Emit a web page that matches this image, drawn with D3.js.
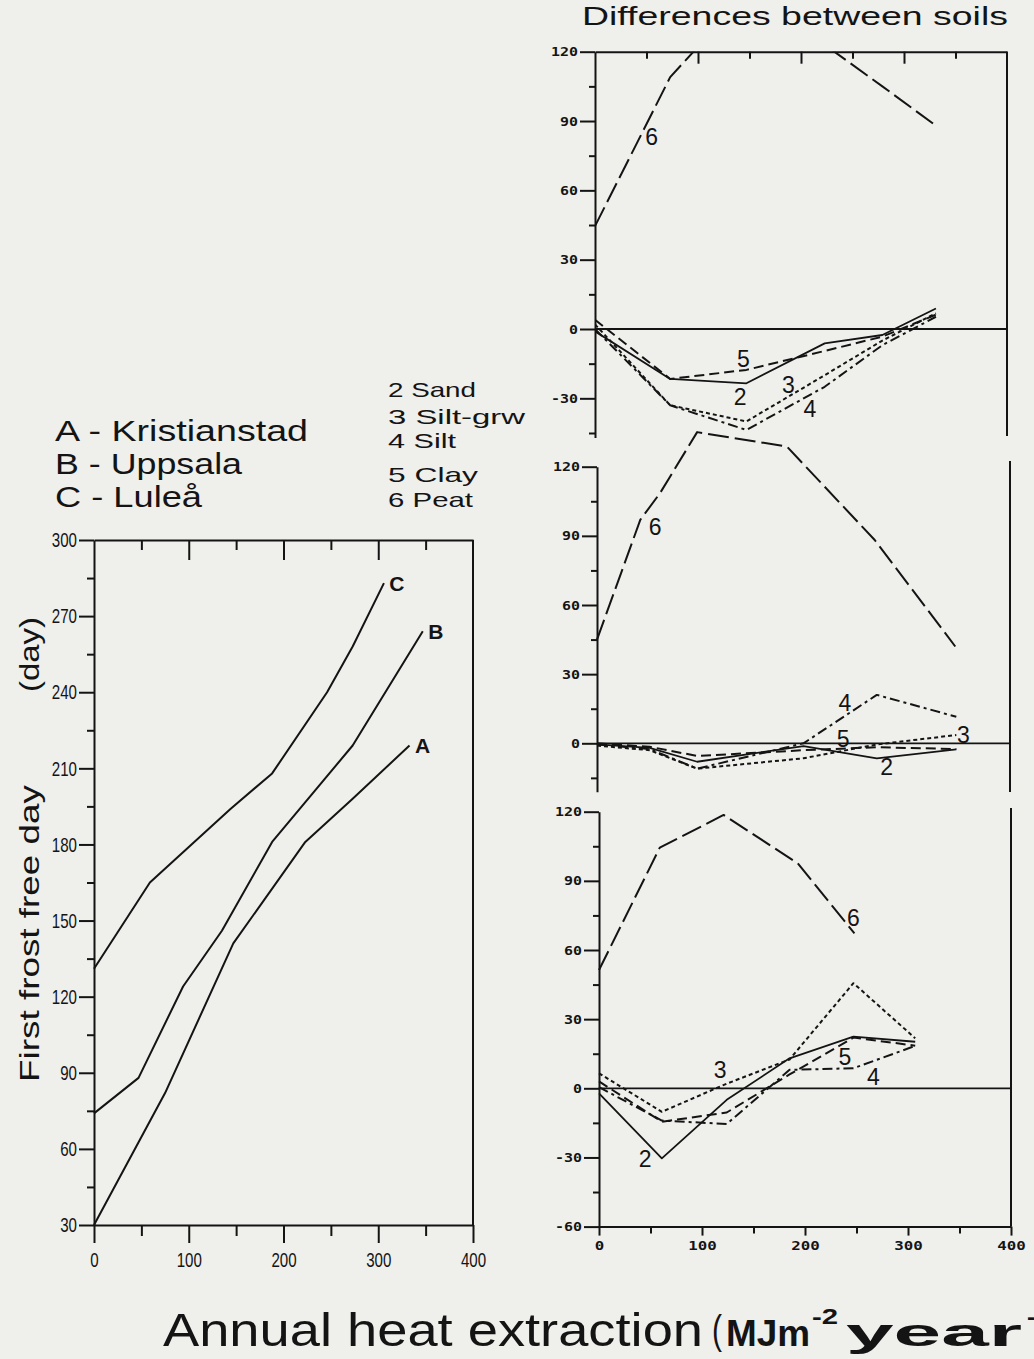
<!DOCTYPE html>
<html>
<head>
<meta charset="utf-8">
<title>First frost free day and differences between soils</title>
<script src="https://cdn.jsdelivr.net/npm/d3@7/dist/d3.min.js"></script>
<style>
  html, body { margin: 0; padding: 0; background: #efefec; }
  svg { display: block; }
</style>
</head>
<body>
<svg id="fig" width="1034" height="1359"></svg>
<script>
// ---- Left panel: first frost free day against annual heat extraction ----
const siteKeys = ["A", "B", "C"];
const siteNames = ["A - Kristianstad", "B - Uppsala", "C - Luleå"];
const heatA = [0, 75, 147, 223, 273, 333];
const frostA = [30, 82, 141, 181, 198, 219];
const heatB = [0, 47, 94, 135, 188, 273, 347];
const frostB = [74, 88, 124, 146, 181, 219, 264];
const heatC = [0, 59, 144, 188, 246, 273, 306];
const frostC = [131, 165, 194, 208, 240, 258, 283];
const frostTicks = [30, 60, 90, 120, 150, 180, 210, 240, 270, 300];
const heatTicks = [0, 100, 200, 300, 400];

// ---- Right panels: difference in first frost free day between soils ----
const soilKeys = ["2", "3", "4", "5", "6"];
const soilNames = ["2 Sand", "3 Silt-grw", "4 Silt", "5 Clay", "6 Peat"];

const upperHeat = [0, 73, 147, 223, 279, 331];
const upperSand = [-1, -21.6, -23.5, -6.2, -2.6, 8.9];
const upperSiltGrw = [2, -33, -40, -20, -5, 6.8];
const upperSilt = [0, -33, -43.7, -25, -7, 5.3];
const upperClay = [4, -21.6, -17.7, -9.5, -3.3, 6.2];
const upperPeat = [44.5, 109, 145, 123, 105, 88];

const middleHeat = [0, 51, 97, 200, 271, 348];
const middleSand = [-0.5, -2, -8, -1.2, -6.5, -2.6];
const middleSiltGrw = [-1, -3, -11, -6.5, -0.5, 3.6];
const middleSilt = [-0.5, -2.5, -11, 0, 21, 11.5];
const middleClay = [0, -1.5, -5.5, -3, -1.7, -2.5];
const middlePeatHeat = [0, 42, 61, 97, 184, 269, 347];
const middlePeat = [45, 97, 108.5, 135, 128.7, 88.2, 42];

const lowerHeat = [0, 61, 124, 185, 247, 307];
const lowerSand = [-2.2, -30.4, -5, 13, 22.4, 20.2];
const lowerSiltGrw = [6.5, -10.2, 2, 12.5, 45.6, 21.7];
const lowerSilt = [0.5, -14, -15.5, 8, 8.7, 18.4];
const lowerClay = [3, -14.5, -10.5, 6, 22, 18.5];
const lowerPeatHeat = [0, 59, 121, 193, 248];
const lowerPeat = [51.3, 104.4, 118.6, 97.6, 67.2];

// ---- drawing ----
const INK = "#141414";
const sansFont = "'Liberation Sans', Arial, Helvetica, sans-serif";
const plotterFont = "'DejaVu Sans Mono', monospace";

const svg = d3.select("#fig");
svg.append("rect").attr("width", 1034).attr("height", 1359).attr("fill", "#efefec");

function axisGroup(parent, tx, ty, axis, width) {
  const g = parent.append("g").attr("transform", `translate(${tx},${ty})`).call(axis);
  g.selectAll("path, line").attr("stroke-width", width);
  return g;
}

// tick labels squeezed or widened to a fixed width per character
function fitTickText(g, font, size, weight, perChar) {
  g.attr("font-family", font).attr("font-size", size);
  if (weight) g.attr("font-weight", weight);
  g.selectAll(".tick text")
    .attr("font-size", size)
    .attr("textLength", function () { return this.textContent.length * perChar; })
    .attr("lengthAdjust", "spacingAndGlyphs");
}

function label(parent, x, y, text, size, length, weight) {
  const t = parent.append("text")
    .attr("x", x).attr("y", y)
    .attr("font-family", sansFont).attr("font-size", size)
    .attr("fill", INK).text(text);
  if (weight) t.attr("font-weight", weight);
  if (length) t.attr("textLength", length).attr("lengthAdjust", "spacingAndGlyphs");
  return t;
}

// ---------- left panel ----------
const lx = d3.scaleLinear().domain([0, 400]).range([94, 473]);
const ly = d3.scaleLinear().domain([30, 300]).range([1225, 540]);
const leftG = svg.append("g").attr("color", INK);

const yMajor = axisGroup(leftG, 94, 0,
  d3.axisLeft(ly).tickValues(frostTicks).tickSize(15).tickSizeOuter(0).tickPadding(2).tickFormat(d => String(d)), 2);
fitTickText(yMajor, sansFont, 21, null, 8.4);
const yMinor = axisGroup(leftG, 94, 0,
  d3.axisLeft(ly).tickValues(d3.range(45, 300, 30)).tickSize(7).tickFormat(""), 2);
yMinor.select(".domain").remove();

const xMajor = axisGroup(leftG, 0, 1225,
  d3.axisBottom(lx).tickValues(heatTicks).tickSize(18).tickSizeOuter(0).tickPadding(9).tickFormat(d => String(d)), 2);
fitTickText(xMajor, sansFont, 21, null, 8.4);
const xMinor = axisGroup(leftG, 0, 1225,
  d3.axisBottom(lx).tickValues([50, 150, 250, 350]).tickSize(11).tickFormat(""), 2);
xMinor.select(".domain").remove();

axisGroup(leftG, 0, 540,
  d3.axisBottom(lx).tickValues([100, 200, 300]).tickSize(20).tickSizeOuter(0).tickFormat(""), 2);
axisGroup(leftG, 0, 540,
  d3.axisBottom(lx).tickValues([50, 150, 250, 350]).tickSize(10).tickFormat(""), 2)
  .select(".domain").remove();

leftG.append("line")
  .attr("x1", lx(400)).attr("x2", lx(400)).attr("y1", ly(300)).attr("y2", ly(30))
  .attr("stroke", INK).attr("stroke-width", 2);

const siteSeries = [[heatA, frostA], [heatB, frostB], [heatC, frostC]];
const siteLine = d3.line().x(d => lx(d[0])).y(d => ly(d[1]));
siteSeries.forEach(([h, f], i) => {
  const pts = d3.zip(h, f);
  leftG.append("path").attr("d", siteLine(pts))
    .attr("fill", "none").attr("stroke", INK).attr("stroke-width", 2)
    .attr("stroke-linejoin", "round");
  const last = pts[pts.length - 1];
  leftG.append("text")
    .attr("x", lx(last[0]) + 13).attr("y", ly(last[1])).attr("dy", "0.36em")
    .attr("text-anchor", "middle").attr("font-family", sansFont)
    .attr("font-weight", "bold").attr("font-size", 21).attr("fill", INK)
    .text(siteKeys[i]);
});

// legends
const siteBaselines = [441, 474, 507];
const siteWidths = [253, 187, 147];
siteNames.forEach((n, i) => label(svg, 55, siteBaselines[i], n, 29, siteWidths[i]));

const soilBaselines = [397, 424, 448, 482, 507];
const soilWidths = [88, 137, 68, 90, 85];
soilNames.forEach((n, i) => label(svg, 388, soilBaselines[i], n, 21, soilWidths[i]));

// y axis title
const yTitle = svg.append("g");
label(yTitle, 0, 0, "First frost free day", 28, 297).attr("transform", "translate(39,1082) rotate(-90)");
label(yTitle, 0, 0, "(day)", 28, 75).attr("transform", "translate(39,692) rotate(-90)");

// panel title and shared x axis title
label(svg, 582, 25, "Differences between soils", 25, 426);
label(svg, 163, 1346, "Annual heat extraction", 46, 540);
label(svg, 712, 1344, "(", 40, 10);
label(svg, 726, 1346, "MJm", 36, 84, "bold");
label(svg, 812, 1324, "-2", 22, 26, "bold");
label(svg, 846, 1346, "year", 38, 176, "bold");
label(svg, 1027, 1324, "-1)", 22, 30, "bold");

// ---------- right panels ----------
const soilDash = ["none", "4,3", "10,4,3,4", "10,5", "21,6"];
const soilWidth = [1.8, 2, 2, 2, 2];

const panels = [
  { x0: 595, x1: 1007, yZero: 329, yTop: 51.7, low: -47, rightTop: 51.7, rightBottom: 436,
    major: [120, 90, 60, 30, 0, -30], minor: [105, 75, 45, 15, -15, -45],
    frameTop: true, xAxis: false, clip: true,
    heat: upperHeat, soils: [upperSand, upperSiltGrw, upperSilt, upperClay],
    peatHeat: upperHeat, peat: upperPeat,
    tags: [[140.8, -29.3], [187.7, -24.2], [208.7, -34.3], [144, -12.7], [55, 83.2]] },
  { x0: 597, x1: 1010, yZero: 743.3, yTop: 466.7, low: -21, rightTop: 461, rightBottom: 792,
    major: [120, 90, 60, 30, 0], minor: [105, 75, 45, 15, -15],
    frameTop: false, xAxis: false, clip: false,
    heat: middleHeat, soils: [middleSand, middleSiltGrw, middleSilt, middleClay],
    peatHeat: middlePeatHeat, peat: middlePeat,
    tags: [[280.6, -10.2], [354.8, 3.6], [240, 17.4], [238.5, 2.2], [56.2, 94]] },
  { x0: 599, x1: 1011, yZero: 1088.3, yTop: 811.7, low: -60, rightTop: 808, rightBottom: 1226.6,
    major: [120, 90, 60, 30, 0, -30, -60], minor: [105, 75, 45, 15, -15, -45],
    frameTop: false, xAxis: true, clip: false,
    heat: lowerHeat, soils: [lowerSand, lowerSiltGrw, lowerSilt, lowerClay],
    peatHeat: lowerPeatHeat, peat: lowerPeat,
    tags: [[44.7, -30.4], [117.5, 7.9], [266.3, 5], [238.8, 13.7], [246.9, 73.8]] }
];

const defs = svg.append("defs");

panels.forEach((p, pi) => {
  const k = (p.yZero - p.yTop) / 120;
  const sx = d3.scaleLinear().domain([0, 400]).range([p.x0, p.x1]);
  const sy = d3.scaleLinear().domain([p.low, 120]).range([p.yZero - p.low * k, p.yTop]);
  const g = svg.append("g").attr("color", INK);

  const ya = axisGroup(g, p.x0, 0,
    d3.axisLeft(sy).tickValues(p.major).tickSize(15).tickSizeOuter(0).tickPadding(2).tickFormat(d => String(d)), 2);
  fitTickText(ya, plotterFont, 12.5, "bold", 9);
  axisGroup(g, p.x0, 0,
    d3.axisLeft(sy).tickValues(p.minor).tickSize(6).tickFormat(""), 2)
    .select(".domain").remove();

  g.append("line")
    .attr("x1", p.x0).attr("x2", p.x1).attr("y1", sy(0)).attr("y2", sy(0))
    .attr("stroke", INK).attr("stroke-width", 1.8);
  g.append("line")
    .attr("x1", p.x1).attr("x2", p.x1).attr("y1", p.rightTop).attr("y2", p.rightBottom)
    .attr("stroke", INK).attr("stroke-width", 2);

  if (p.frameTop) {
    axisGroup(g, 0, p.yTop,
      d3.axisBottom(sx).tickValues([100, 200, 300]).tickSize(12).tickSizeOuter(0).tickFormat(""), 2);
    axisGroup(g, 0, p.yTop,
      d3.axisBottom(sx).tickValues([50, 150, 250, 350]).tickSize(7).tickFormat(""), 2)
      .select(".domain").remove();
  }
  if (p.xAxis) {
    const xa = axisGroup(g, 0, sy(p.low),
      d3.axisBottom(sx).tickValues(heatTicks).tickSize(9).tickSizeOuter(0).tickPadding(6).tickFormat(d => String(d)), 2);
    fitTickText(xa, plotterFont, 12.5, "bold", 9.5);
    axisGroup(g, 0, sy(p.low),
      d3.axisBottom(sx).tickValues([50, 150, 250, 350]).tickSize(7).tickFormat(""), 2)
      .select(".domain").remove();
  }

  const plot = g.append("g");
  if (p.clip) {
    defs.append("clipPath").attr("id", "panelClip" + pi)
      .append("rect").attr("x", p.x0).attr("y", p.yTop)
      .attr("width", p.x1 - p.x0).attr("height", sy(p.low) - p.yTop);
    plot.attr("clip-path", `url(#panelClip${pi})`);
  }
  const line = d3.line().x(d => sx(d[0])).y(d => sy(d[1]));
  const series = p.soils.map(v => d3.zip(p.heat, v)).concat([d3.zip(p.peatHeat, p.peat)]);
  series.forEach((pts, si) => {
    plot.append("path").attr("d", line(pts))
      .attr("fill", "none").attr("stroke", INK)
      .attr("stroke-width", soilWidth[si])
      .attr("stroke-dasharray", soilDash[si])
      .attr("stroke-linejoin", "round");
  });
  p.tags.forEach((t, si) => {
    g.append("text")
      .attr("x", sx(t[0])).attr("y", sy(t[1])).attr("dy", "0.36em")
      .attr("text-anchor", "middle").attr("font-family", sansFont)
      .attr("font-size", 23).attr("fill", INK)
      .text(soilKeys[si]);
  });
});
</script>
</body>
</html>
